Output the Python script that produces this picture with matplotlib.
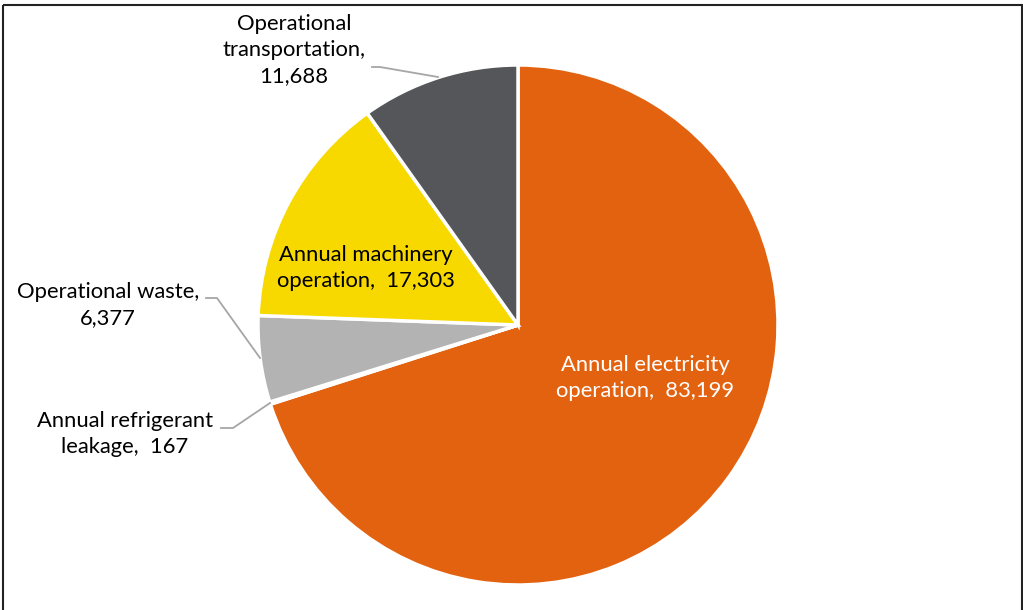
import matplotlib
matplotlib.use("Agg")
import matplotlib.pyplot as plt
from matplotlib.patches import Rectangle

categories = ["Annual electricity\noperation,  83,199",
              "Annual refrigerant\nleakage,  167",
              "Operational waste,\n6,377",
              "Annual machinery\noperation,  17,303",
              "Operational\ntransportation,\n11,688"]
values = [83199, 167, 6377, 17303, 11688]
colors = ["#E36210", "#D9D9D9", "#B3B3B3", "#F7D900", "#55565A"]

plt.rcParams['font.family'] = ['Lato', 'DejaVu Sans']

W, H = 1023, 610
fig = plt.figure(figsize=(W/100, H/100), dpi=100)
ax = fig.add_axes([0, 0, 1, 1])

cx, cy, r = 518, 325, 260
wedges, _ = ax.pie(values, colors=colors, startangle=-90, counterclock=True,
                   center=(cx, cy), radius=r, frame=True,
                   wedgeprops=dict(edgecolor='white', linewidth=2.5))
ax.set_xlim(0, W)
ax.set_ylim(H, 0)
ax.set_aspect('equal')
ax.axis('off')

fs = 15.8
# label positions (layout)
lab = [
    (645, 378, 'white', None),
    (125, 434, 'black', [(221, 428), (233, 428), (270, 403)]),
    (108, 305, 'black', [(206, 298), (217, 298), (260, 358)]),
    (366, 268, 'black', None),
    (294, 50, 'black', [(372, 67), (380, 67), (438, 77)]),
]
for text, (x, y, c, leader) in zip(categories, lab):
    ax.text(x, y, text, ha='center', va='center', color=c, fontsize=fs,
            linespacing=1.4)
    if leader:
        xs, ys = zip(*leader)
        ax.plot(xs, ys, color='#A6A6A6', lw=1.3)

ax.add_patch(Rectangle((3, 5), 1019, 620, fill=False, edgecolor='#222222',
                       lw=1.5, clip_on=False))

fig.savefig("out.png", dpi=100)
